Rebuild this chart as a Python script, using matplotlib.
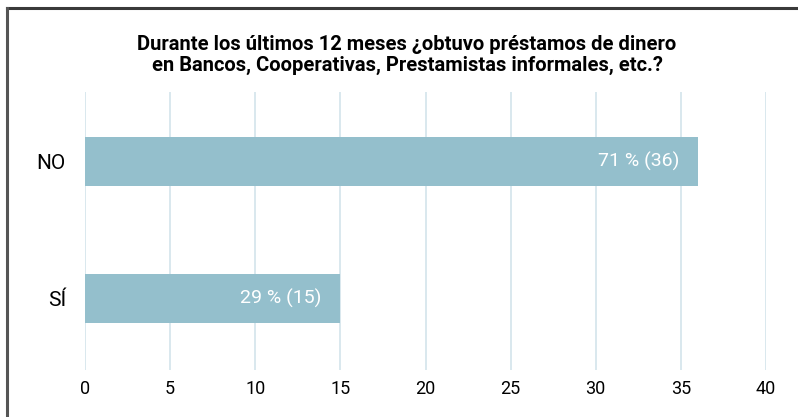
import matplotlib
matplotlib.use("Agg")
import matplotlib.pyplot as plt
from matplotlib.lines import Line2D

plt.rcParams['font.family'] = ['Roboto', 'DejaVu Sans']

categories = ["SÍ", "NO"]
counts = [15, 36]
labels = ["29 % (15)", "71 % (36)"]
xticks = [0, 5, 10, 15, 20, 25, 30, 35, 40]
title = "Durante los últimos 12 meses ¿obtuvo préstamos de dinero\nen Bancos, Cooperativas, Prestamistas informales, etc.?"

W, H = 798, 417
fig = plt.figure(figsize=(W/100, H/100), dpi=100)
ax = fig.add_axes([85/W, 1-370/H, (766-85)/W, (370-92)/H])

bar_color = "#94bfcc"
ypos = list(range(len(categories)))
ax.barh(ypos, counts, height=0.358, color=bar_color, zorder=2)
for y, c, lab in zip(ypos, counts, labels):
    ax.text(c - 1.1, y, lab, ha="right", va="center", color="white", fontsize=14, zorder=3)

ax.set_xlim(0, 40)
ax.set_ylim(-0.522, 1.507)
ax.set_xticks(xticks)
ax.set_xticklabels([str(t) for t in xticks], fontsize=13)
ax.set_yticks(ypos)
ax.set_yticklabels(categories, fontsize=15)
ax.tick_params(axis="both", length=0, colors="black")
ax.tick_params(axis="x", pad=7.5)
ax.tick_params(axis="y", pad=13.7)
ax.grid(axis="x", color="#d3e4eb", linewidth=1.2, zorder=0)
for s in ax.spines.values():
    s.set_visible(False)

fig.text(0.51, 1-55/H, title, ha="center", va="center", fontsize=14.5, fontweight="bold", linespacing=1.15)

# frame lines (top and left)
fig.add_artist(Line2D([6.5/W, 1], [1-8/H, 1-8/H], transform=fig.transFigure, color="#3a3a3a", linewidth=2.2))
fig.add_artist(Line2D([6.5/W, 6.5/W], [0, 1-8/H], transform=fig.transFigure, color="#555555", linewidth=2.2))

fig.savefig("out.png", dpi=100)
